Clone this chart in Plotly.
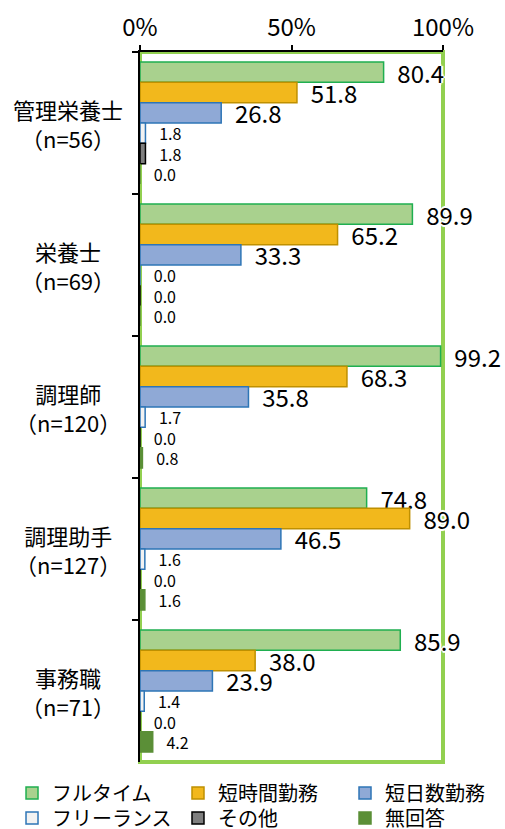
import plotly.graph_objects as go

# ---- data ----
categories = ["管理栄養士", "栄養士", "調理師", "調理助手", "事務職"]
sample_sizes = ["（n=56）", "（n=69）", "（n=120）", "（n=127）", "（n=71）"]
series_names = ["フルタイム", "短時間勤務", "短日数勤務", "フリーランス", "その他", "無回答"]
full_time = [80.4, 89.9, 99.2, 74.8, 85.9]
short_hours = [51.8, 65.2, 68.3, 89.0, 38.0]
short_days = [26.8, 33.3, 35.8, 46.5, 23.9]
freelance = [1.8, 0.0, 1.7, 1.6, 1.4]
other = [1.8, 0.0, 0.0, 0.0, 0.0]
no_answer = [0.0, 0.0, 0.8, 1.6, 4.2]
x_tick_values = [0, 50, 100]
x_tick_labels = ["0%", "50%", "100%"]

series_values = [full_time, short_hours, short_days, freelance, other, no_answer]

# ---- styles ----
fills = ["#A9D18E", "#F2B81C", "#8FA9D6", "#F2F2F2", "#7F7F7F", "#5B8F37"]
borders = ["#1FAF50", "#BF9000", "#2E75B6", "#2E75B6", "#000000", "#5B8F37"]
label_sizes = [24, 24, 24, 16, 16, 16]
label_pads = ["\u00a0\u00a0", "\u00a0\u00a0", "\u00a0\u00a0",
              "\u00a0\u00a0\u00a0", "\u00a0\u00a0\u00a0", "\u00a0\u00a0\u00a0"]
legend_ids = ["legend", "legend2", "legend3", "legend4", "legend5", "legend6"]
legend_x = [-0.4224, 0.1254, 0.6766, -0.4224, 0.1254, 0.6766]
legend_y = [-0.0437, -0.0437, -0.0437, -0.0789, -0.0789, -0.0789]
FONT = "Noto Sans CJK JP"
halo = ("white 0 0 2px, white 0 0 2px, white 0 0 3px, white 0 0 3px, "
        "white 2px 0 0, white -2px 0 0, white 0 2px 0, white 0 -2px 0")

fig = go.Figure()
for name, vals, fc, bc, ts, pad, lg in zip(series_names, series_values, fills, borders,
                                           label_sizes, label_pads, legend_ids):
    fig.add_trace(go.Bar(
        name=name,
        legend=lg,
        orientation="h",
        y=categories,
        x=vals,
        texttemplate=pad + "%{x:.1f}",
        textposition="outside",
        cliponaxis=False,
        constraintext="none",
        textfont=dict(family=FONT, size=ts, color="black", shadow=halo),
        marker=dict(color=fc, line=dict(color=bc, width=1.5)),
        hoverinfo="skip",
    ))

for cat, n in zip(categories, sample_sizes):
    fig.add_annotation(
        x=-0.237, xref="paper", y=cat, yref="y",
        text=f"{cat}<br>{n}", showarrow=False, align="center",
        xanchor="center", yanchor="middle",
        font=dict(family=FONT, size=22, color="black"),
    )

fig.add_shape(type="rect", xref="paper", yref="paper", x0=0, x1=1, y0=0, y1=1,
              line=dict(color="#92D050", width=4), layer="below")

legend_style = dict(
    orientation="v", yanchor="middle", xanchor="left",
    font=dict(family=FONT, size=20, color="black"),
    traceorder="normal", itemwidth=30, tracegroupgap=0,
    bgcolor="rgba(0,0,0,0)", borderwidth=0,
)
legends = {}
for lg, lx, ly in zip(legend_ids, legend_x, legend_y):
    legends[lg] = dict(x=lx, y=ly, **legend_style)

fig.update_layout(
    width=505, height=829,
    margin=dict(l=140, r=62, t=52, b=67, autoexpand=False),
    paper_bgcolor="white", plot_bgcolor="white",
    barmode="group", bargap=0.14, bargroupgap=0,
    font=dict(family=FONT, color="black"),
    showlegend=True,
    xaxis=dict(
        side="top", range=[0, 100], tickvals=x_tick_values, ticktext=x_tick_labels,
        ticks="outside", ticklen=5, tickcolor="black", tickwidth=1.5,
        showline=True, linecolor="black", linewidth=1.5,
        showgrid=False, zeroline=False,
        tickfont=dict(family=FONT, size=24, color="black"),
        fixedrange=True,
    ),
    yaxis=dict(
        type="category", categoryorder="array", categoryarray=categories,
        autorange="reversed", showticklabels=False,
        ticks="outside", tickson="boundaries", ticklen=6, tickcolor="black", tickwidth=1.5,
        showline=True, linecolor="black", linewidth=1.5,
        showgrid=False, zeroline=False, fixedrange=True,
    ),
    **legends,
)

fig.write_html("out.html")
